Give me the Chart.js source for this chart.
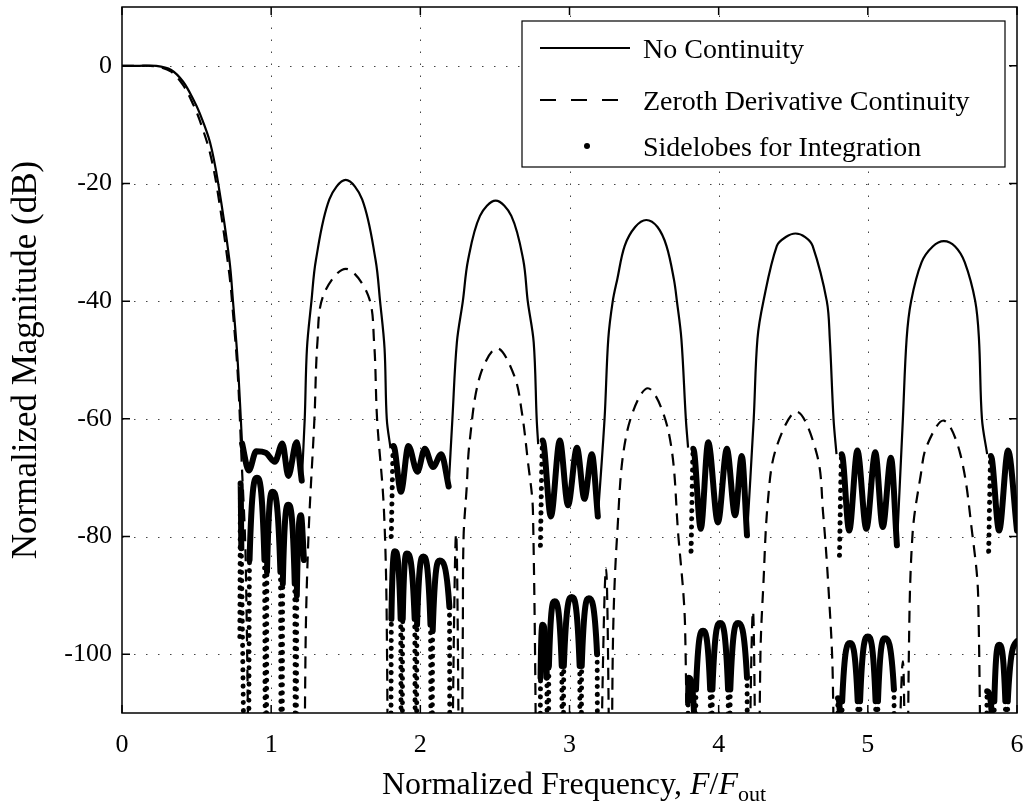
<!DOCTYPE html>
<html>
<head>
<meta charset="utf-8">
<script src="https://cdn.jsdelivr.net/npm/chart.js@4/dist/chart.umd.min.js"></script>
<style>
  html, body { margin: 0; padding: 0; background: #fff; }
  #wrap { width: 1025px; height: 805px; }
</style>
</head>
<body>
<div id="wrap"><canvas id="grafico" width="1025" height="805"></canvas></div>
<script>
// Eixos
const xTicks = [0, 1, 2, 3, 4, 5, 6];
const yTicks = [-100, -80, -60, -40, -20, 0];

// "No Continuity" (linha cheia): lóbulo principal e lóbulos laterais grandes
const noContMainLobe = [[0, 0], [0.1, 0], [0.23, 0], [0.33, -0.7], [0.41, -2.7], [0.48, -5.8], [0.52, -8], [0.59, -13], [0.645, -20], [0.72, -33], [0.744, -40], [0.775, -50], [0.805, -64.2]];
const noContLobe1 = [[1.205, -70.5], [1.225, -60], [1.24, -48], [1.27, -40], [1.30, -33], [1.39, -22.7], [1.5, -19.4], [1.61, -22.7], [1.70, -33], [1.73, -40], [1.76, -48], [1.775, -60], [1.80, -65]];
const noContLobe2 = [[2.19, -71.5], [2.215, -60], [2.245, -47], [2.285, -40], [2.32, -33], [2.40, -25.5], [2.505, -22.9], [2.61, -25.5], [2.69, -33], [2.72, -40], [2.76, -47], [2.78, -60], [2.79, -64.3]];
const noContLobe3 = [[3.19, -76.6], [3.235, -60], [3.26, -46.4], [3.29, -40], [3.32, -36.3], [3.37, -30.6], [3.44, -27.4], [3.515, -26.2], [3.59, -27.4], [3.65, -30.6], [3.70, -36.3], [3.72, -40], [3.75, -46.4], [3.78, -60], [3.795, -64.9]];
const noContLobe4 = [[4.19, -79.8], [4.235, -60], [4.26, -46.4], [4.30, -40], [4.39, -30.6], [4.45, -29.1], [4.515, -28.5], [4.58, -29.1], [4.63, -30.6], [4.725, -40], [4.745, -46.4], [4.77, -60], [4.79, -66]];
const noContLobe5 = [[5.195, -81.5], [5.235, -60], [5.26, -46.4], [5.29, -40], [5.36, -33.4], [5.435, -30.7], [5.51, -29.8], [5.585, -30.7], [5.65, -33.4], [5.72, -40], [5.745, -46.4], [5.765, -60], [5.80, -66]];

// "Zeroth Derivative Continuity" (tracejada)
const zerothMainLobe = [[0, 0], [0.1, 0], [0.23, -0.1], [0.33, -1], [0.41, -3.3], [0.48, -6.7], [0.52, -9.2], [0.59, -14.8], [0.645, -22], [0.72, -35.5], [0.744, -42], [0.775, -52], [0.80, -66], [0.83, -85], [0.86, -150]];
const zerothLobe1 = [[1.22, -150], [1.23, -100], [1.25, -80], [1.29, -60], [1.31, -47], [1.35, -39], [1.5, -34.5], [1.65, -39], [1.69, -47], [1.71, -60], [1.755, -75], [1.775, -95], [1.785, -150]];
const zerothLobe2 = [[2.20, -150], [2.24, -79.5], [2.27, -150], [2.285, -95], [2.29, -80], [2.31, -72], [2.33, -64], [2.40, -52.7], [2.515, -48], [2.63, -52.7], [2.68, -58.8], [2.72, -67], [2.755, -75.8], [2.785, -150]];
const zerothLobe3 = [[3.19, -150], [3.245, -85.4], [3.28, -150], [3.29, -100], [3.32, -79.5], [3.385, -62.3], [3.525, -54.8], [3.665, -62.3], [3.73, -80], [3.775, -95.6], [3.79, -150]];
const zerothLobe4 = [[4.19, -150], [4.23, -92.7], [4.26, -150], [4.28, -100], [4.30, -88], [4.33, -74], [4.385, -65], [4.525, -58.8], [4.66, -66.2], [4.70, -76], [4.735, -88.3], [4.765, -104], [4.78, -150]];
const zerothLobe5 = [[5.18, -150], [5.235, -101.2], [5.26, -150], [5.275, -100], [5.30, -79.5], [5.355, -69.5], [5.395, -64.6], [5.51, -60.3], [5.62, -66], [5.70, -79.5], [5.74, -90.5], [5.76, -150]];

// "Sidelobes for Integration" (pontos): faixa superior e inferior em cada região
const upperBand1 = [[0.805, -64.2], [0.85, -68.8], [0.90, -65.5], [0.965, -65.8], [1.025, -67.3], [1.075, -64.2], [1.115, -69.7], [1.17, -64], [1.205, -70.5]];
const lowerBand1 = [[0.79, -97], [0.795, -71], [0.80, -82], [0.845, -150], [0.855, -84], [0.905, -70], [0.955, -84], [0.965, -150], [0.972, -86], [1.01, -72.4], [1.062, -86], [1.07, -150], [1.078, -88], [1.115, -74.6], [1.158, -88], [1.165, -150], [1.172, -90], [1.20, -76.4], [1.22, -84]];
const upperBand2 = [[1.805, -80], [1.82, -64.6], [1.87, -72.4], [1.92, -64.6], [1.98, -69], [2.03, -65.1], [2.085, -68.2], [2.14, -66], [2.19, -71.5]];
const lowerBand2 = [[1.80, -150], [1.806, -94], [1.83, -82.5], [1.868, -94], [1.875, -150], [1.882, -94], [1.91, -82.9], [1.962, -94], [1.97, -150], [1.978, -95], [2.02, -83.4], [2.068, -95], [2.075, -150], [2.083, -96], [2.13, -84.1], [2.195, -92], [2.20, -150]];
const upperBand3 = [[2.805, -81.5], [2.82, -63.7], [2.875, -76.6], [2.935, -63.7], [2.99, -74.7], [3.05, -64.9], [3.10, -73.6], [3.15, -66], [3.19, -76.6]];
const lowerBand3 = [[2.80, -150], [2.806, -104], [2.82, -95], [2.848, -104], [2.855, -150], [2.862, -102], [2.90, -91], [2.948, -102], [2.955, -150], [2.962, -102], [3.015, -90.3], [3.068, -102], [3.075, -150], [3.082, -102], [3.13, -90.5], [3.185, -100], [3.19, -150]];
const upperBand4 = [[3.815, -82.5], [3.83, -65.1], [3.88, -78.7], [3.93, -64], [3.995, -77.6], [4.055, -65.1], [4.11, -76.4], [4.155, -66.3], [4.19, -79.8]];
const lowerBand4 = [[3.79, -150], [3.795, -108], [3.80, -104], [3.835, -110], [3.84, -150], [3.848, -106], [3.895, -96], [3.943, -106], [3.95, -150], [3.958, -106], [4.01, -94.7], [4.063, -106], [4.07, -150], [4.078, -106], [4.13, -94.7], [4.19, -104], [4.195, -150]];
const upperBand5 = [[4.81, -83.2], [4.825, -66], [4.875, -79], [4.93, -65.4], [4.99, -78.7], [5.05, -65.7], [5.10, -78.4], [5.155, -66.6], [5.195, -81.5]];
const lowerBand5 = [[4.79, -150], [4.80, -107.5], [4.815, -112], [4.82, -150], [4.828, -108], [4.88, -98.1], [4.932, -108], [4.94, -150], [4.948, -108], [5.0, -97], [5.052, -108], [5.06, -150], [5.068, -108], [5.115, -97.3], [5.175, -106], [5.18, -150]];
const upperBand6 = [[5.81, -82.5], [5.825, -66.3], [5.88, -79], [5.94, -65.4], [6.0, -79]];
const lowerBand6 = [[5.79, -150], [5.80, -106.3], [5.835, -112], [5.84, -150], [5.848, -108], [5.88, -98.4], [5.922, -108], [5.93, -150], [5.938, -108], [6.0, -97.8]];

const legendLabels = ['No Continuity', 'Zeroth Derivative Continuity', 'Sidelobes for Integration'];

// Junta os pedaços com um ponto nulo entre eles (quebra a linha)
function juntarPedacos(pedacos) {
    const saida = [];
    pedacos.forEach((p, i) => {
        if (i > 0) saida.push({ x: p[0][0], y: null });
        p.forEach(([x, y]) => saida.push({ x, y }));
    });
    return saida;
}

// Trechos quase verticais da faixa de pontos aparecem pontilhados
function trechoPontilhado(c) {
    const y0 = c.p0.parsed.y, y1 = c.p1.parsed.y;
    const dx = Math.abs(c.p1.parsed.x - c.p0.parsed.x);
    return Math.min(y0, y1) <= -140 || (Math.abs(y1 - y0) >= 15 && dx <= 0.02);
}

const FONTE = "'Liberation Serif', 'Times New Roman', serif";

// Grade pontilhada, moldura, marcas internas, legenda e títulos
const molduraPlugin = {
    id: 'moldura',
    beforeDatasetsDraw(chart) {
        const { ctx, chartArea: a, scales: { x, y } } = chart;
        ctx.save();
        ctx.strokeStyle = '#444';
        ctx.lineWidth = 1;
        ctx.setLineDash([1.5, 10.5]);
        xTicks.slice(1, -1).forEach(v => {
            const px = Math.round(x.getPixelForValue(v)) + 0.5;
            ctx.beginPath(); ctx.moveTo(px, a.bottom); ctx.lineTo(px, a.top); ctx.stroke();
        });
        yTicks.forEach(v => {
            const py = Math.round(y.getPixelForValue(v)) + 0.5;
            ctx.beginPath(); ctx.moveTo(a.left, py); ctx.lineTo(a.right, py); ctx.stroke();
        });
        ctx.restore();
    },
    afterDatasetsDraw(chart) {
        const { ctx, chartArea: a, scales: { x, y } } = chart;
        ctx.save();
        ctx.strokeStyle = '#000';
        ctx.lineWidth = 1.5;
        ctx.setLineDash([]);
        ctx.strokeRect(a.left, a.top, a.right - a.left, a.bottom - a.top);
        const t = 8;
        xTicks.forEach(v => {
            const px = x.getPixelForValue(v);
            ctx.beginPath();
            ctx.moveTo(px, a.bottom); ctx.lineTo(px, a.bottom - t);
            ctx.moveTo(px, a.top); ctx.lineTo(px, a.top + t);
            ctx.stroke();
        });
        yTicks.forEach(v => {
            const py = y.getPixelForValue(v);
            ctx.beginPath();
            ctx.moveTo(a.left, py); ctx.lineTo(a.left + t, py);
            ctx.moveTo(a.right, py); ctx.lineTo(a.right - t, py);
            ctx.stroke();
        });

        // Legenda
        const bx = 522, by = 21, bw = 483, bh = 146;
        ctx.fillStyle = '#fff';
        ctx.fillRect(bx, by, bw, bh);
        ctx.lineWidth = 1.2;
        ctx.strokeRect(bx, by, bw, bh);
        const linhas = [48, 100, 146];
        ctx.lineWidth = 2.2;
        ctx.beginPath(); ctx.moveTo(540, linhas[0]); ctx.lineTo(630, linhas[0]); ctx.stroke();
        ctx.setLineDash([16, 15]);
        ctx.beginPath(); ctx.moveTo(540, linhas[1]); ctx.lineTo(630, linhas[1]); ctx.stroke();
        ctx.setLineDash([]);
        ctx.fillStyle = '#000';
        ctx.beginPath(); ctx.arc(587, linhas[2], 3, 0, Math.PI * 2); ctx.fill();
        ctx.font = `28px ${FONTE}`;
        ctx.textAlign = 'left';
        ctx.textBaseline = 'alphabetic';
        legendLabels.forEach((txt, i) => ctx.fillText(txt, 643, linhas[i] + 9.5));
        ctx.restore();
    },
    afterDraw(chart) {
        const { ctx } = chart;
        ctx.save();
        ctx.fillStyle = '#000';
        ctx.textBaseline = 'alphabetic';
        // Título do eixo x com F/F_out
        const partes = [
            { t: 'Normalized Frequency, ', f: `32px ${FONTE}`, dy: 0 },
            { t: 'F', f: `italic 32px ${FONTE}`, dy: 0 },
            { t: '/', f: `32px ${FONTE}`, dy: 0 },
            { t: 'F', f: `italic 32px ${FONTE}`, dy: 0 },
            { t: 'out', f: `22px ${FONTE}`, dy: 7 }
        ];
        let total = 0;
        partes.forEach(p => { ctx.font = p.f; p.w = ctx.measureText(p.t).width; total += p.w; });
        let cx = 574 - total / 2;
        const base = 794;
        partes.forEach(p => {
            ctx.font = p.f;
            ctx.textAlign = 'left';
            ctx.fillText(p.t, cx, base + p.dy);
            cx += p.w;
        });
        // Título do eixo y
        ctx.translate(27, 360);
        ctx.rotate(-Math.PI / 2);
        ctx.font = `35px ${FONTE}`;
        ctx.textAlign = 'center';
        ctx.textBaseline = 'middle';
        ctx.fillText('Normalized Magnitude (dB)', 0, 0);
        ctx.restore();
    }
};

const ctx = document.getElementById('grafico').getContext('2d');

new Chart(ctx, {
    type: 'line',
    data: {
        datasets: [
            {
                label: legendLabels[2],
                data: juntarPedacos([upperBand1, lowerBand1, upperBand2, lowerBand2, upperBand3, lowerBand3,
                    upperBand4, lowerBand4, upperBand5, lowerBand5, upperBand6, lowerBand6]),
                borderColor: '#000',
                borderWidth: 6,
                borderCapStyle: 'round',
                borderJoinStyle: 'round',
                pointRadius: 0,
                cubicInterpolationMode: 'monotone',
                clip: 0,
                order: 0,
                segment: {
                    borderDash: (c) => trechoPontilhado(c) ? [0.1, 8] : undefined,
                    borderWidth: (c) => trechoPontilhado(c) ? 5 : undefined
                }
            },
            {
                label: legendLabels[0],
                data: juntarPedacos([noContMainLobe, noContLobe1, noContLobe2, noContLobe3, noContLobe4, noContLobe5]),
                borderColor: '#000',
                borderWidth: 2.2,
                pointRadius: 0,
                tension: 0.35,
                clip: 0,
                order: 1
            },
            {
                label: legendLabels[1],
                data: juntarPedacos([zerothMainLobe, zerothLobe1, zerothLobe2, zerothLobe3, zerothLobe4, zerothLobe5]),
                borderColor: '#000',
                borderWidth: 2.2,
                borderDash: [12, 8],
                pointRadius: 0,
                tension: 0.35,
                clip: 0,
                order: 2
            }
        ]
    },
    options: {
        responsive: false,
        animation: false,
        layout: { padding: { top: 7, right: 8, left: 0, bottom: 0 } },
        plugins: {
            legend: { display: false },
            tooltip: { enabled: false }
        },
        scales: {
            x: {
                type: 'linear',
                min: 0,
                max: 6,
                afterBuildTicks: (s) => { s.ticks = xTicks.map(v => ({ value: v })); },
                afterFit: (s) => { s.height = 92; s.paddingLeft = 0; s.paddingRight = 0; },
                grid: { display: false, drawTicks: false },
                border: { display: false },
                ticks: {
                    color: '#000',
                    padding: 17,
                    maxRotation: 0,
                    font: { family: FONTE, size: 26 },
                    callback: (v) => String(v)
                }
            },
            y: {
                type: 'linear',
                min: -110,
                max: 10,
                afterBuildTicks: (s) => { s.ticks = yTicks.map(v => ({ value: v })); },
                afterFit: (s) => { s.width = 122; s.paddingTop = 0; s.paddingBottom = 0; },
                grid: { display: false, drawTicks: false },
                border: { display: false },
                ticks: {
                    color: '#000',
                    padding: 10,
                    font: { family: FONTE, size: 26 },
                    callback: (v) => String(v)
                }
            }
        }
    },
    plugins: [molduraPlugin]
});
</script>
</body>
</html>
